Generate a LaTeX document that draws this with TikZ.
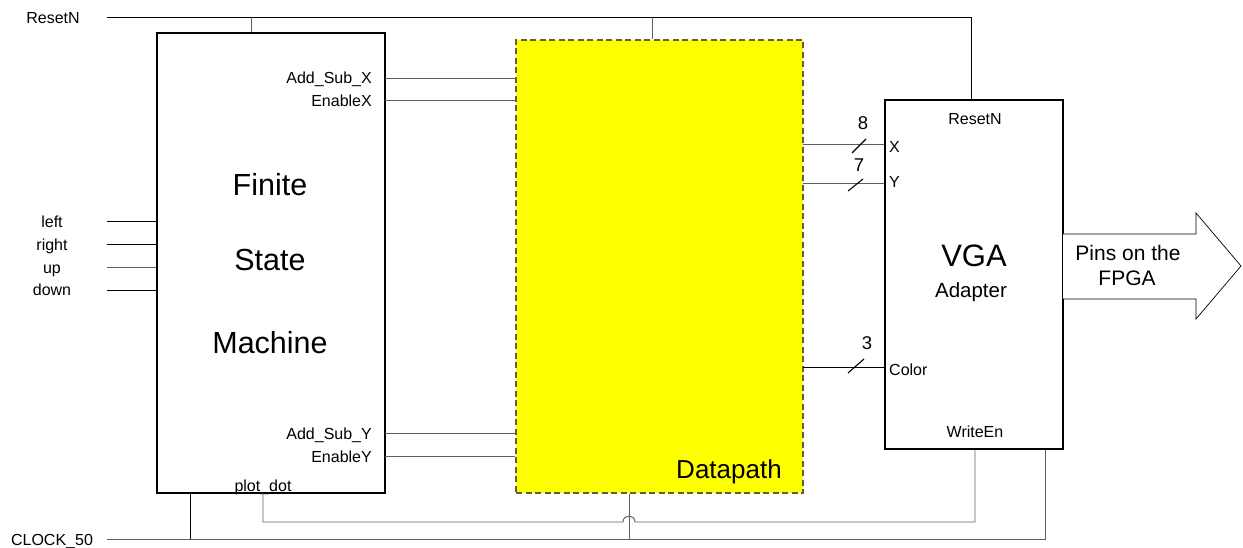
\documentclass[tikz,border=0pt]{standalone}
\usepackage{fontspec}
\setmainfont{Liberation Sans}
\definecolor{wiregray}{RGB}{95,95,95}
\definecolor{dpedge}{RGB}{95,95,60}
\definecolor{dpfill}{RGB}{255,255,0}
\begin{document}
\begin{tikzpicture}[x=1pt,y=-1pt,
  blk/.style={draw=black,line width=1.5pt,inner sep=0pt,fill=white},
  dpbox/.style={draw=dpedge,line width=1.2pt,dash pattern=on 6pt off 3.5pt,fill=dpfill,inner sep=0pt},
  wire/.style={draw=wiregray,line width=0.95pt},
  wirek/.style={draw=black,line width=0.95pt},
  small/.style={inner sep=0pt,font=\fontsize{16}{19}\selectfont},
  big/.style={inner sep=0pt,font=\fontsize{30.5}{34}\selectfont},
  mid/.style={inner sep=0pt,font=\fontsize{21}{25}\selectfont},
  busnum/.style={inner sep=0pt,font=\fontsize{18.5}{21}\selectfont},
  slash/.style={draw=black,line width=1.1pt}]
\useasboundingbox (0,0) rectangle (1243,548);

% blocks
\node[blk, minimum width=228pt, minimum height=460pt] (fsm) at (271,263) {};
\node[dpbox, minimum width=287pt, minimum height=453pt] (dp) at (659.5,266.5) {};
\node[blk, minimum width=178pt, minimum height=349pt] (vga) at (974,274.5) {};

% output arrow
\draw[black,line width=0.7pt,fill=white] (1063,234) -- (1196,234) -- (1196,213) -- (1241,266) -- (1196,319) -- (1196,299) -- (1063,299);
\node[mid,anchor=base] (pins1) at (1128,261) {Pins on the};
\node[mid,anchor=base] (pins2) at (1127,286) {FPGA};

% block titles
\node[big,anchor=base] (t1) at (270,196) {Finite};
\node[big,anchor=base] (t2) at (270,271) {State};
\node[big,anchor=base] (t3) at (270,353) {Machine};
\node[inner sep=0pt,font=\fontsize{31}{35}\selectfont,anchor=base] (t4) at (974,267) {VGA};
\node[inner sep=0pt,font=\fontsize{20.5}{24}\selectfont,anchor=base] (t5) at (971,298) {Adapter};
\node[inner sep=0pt,font=\fontsize{26}{30}\selectfont,anchor=base] (t6) at (729,478) {Datapath};

% reset
\coordinate (rstin) at (107,17);
\coordinate (rstA) at (251,17);
\coordinate (rstB) at (652,17);
\node[small,anchor=base] (lrst) at (53,24) {ResetN};
\draw[wirek] (rstin) -| ([xshift=-3pt]vga.north);
\draw[wire] (rstA) -- (rstA |- fsm.north);
\draw[wire] (rstB) -- (rstB |- dp.north);

% FSM outputs
\coordinate (ax) at (385,78);
\coordinate (ex) at (385,100);
\coordinate (ay) at (385,433);
\coordinate (ey) at (385,456);
\draw[wire] (ax) -- (ax -| dp.west);
\draw[wire] (ex) -- (ex -| dp.west);
\draw[wire] (ay) -- (ay -| dp.west);
\draw[wire] (ey) -- (ey -| dp.west);
\node[small,anchor=base east] (lax) at (372,84) {Add\_Sub\_X};
\node[small,anchor=base east] (lex) at (372,107) {EnableX};
\node[small,anchor=base east] (lay) at (372,439) {Add\_Sub\_Y};
\node[small,anchor=base east] (ley) at (372,462) {EnableY};
\node[small,anchor=base] (lpd) at (263,491) {plot\_dot};

% inputs
\coordinate (inL) at (107,221);
\coordinate (inR) at (107,244);
\coordinate (inU) at (107,267);
\coordinate (inD) at (107,290);
\draw[wirek] (inL) -- (inL -| fsm.west);
\draw[wirek] (inR) -- (inR -| fsm.west);
\draw[wire] (inU) -- (inU -| fsm.west);
\draw[wirek] (inD) -- (inD -| fsm.west);
\node[small,anchor=base] (ll) at (52,228) {left};
\node[small,anchor=base] (lr) at (52,251) {right};
\node[small,anchor=base] (lu) at (52,273) {up};
\node[small,anchor=base] (ld) at (52,296) {down};

% clock
\coordinate (clk) at (107,539);
\coordinate (cA) at (190,539);
\coordinate (cB) at (629,539);
\node[small,anchor=base] (lclk) at (52,545) {CLOCK\_50};
\draw[wire] (clk) -| ([xshift=71pt]vga.south);
\draw[wirek] (cA) -- (cA |- fsm.south);
\draw[wire] (cB) -- (cB |- dp.south);

% plot_dot to WriteEn with hop
\coordinate (pd) at (263,493);
\draw[wire] (pd) -- (263,522) -- (623,522) .. controls (623,514) and (635,514) .. (635,522) -| ([xshift=1pt]vga.south);

% datapath to VGA buses
\coordinate (xo) at (803,144);
\coordinate (yo) at (803,183);
\coordinate (co) at (803,367);
\draw[wire] (xo) -- (xo -| vga.west);
\draw[wire] (yo) -- (yo -| vga.west);
\draw[wirek] (co) -- (co -| vga.west);
\draw[slash] (852,153) -- (866,139);
\draw[slash] (848,191) -- (863,179);
\draw[slash] (848,373) -- (864,359);
\node[busnum,anchor=base] (n8) at (863,130) {8};
\node[busnum,anchor=base] (n7) at (859,172) {7};
\node[busnum,anchor=base] (n3) at (867,349) {3};

% VGA port labels
\node[small,anchor=base west] (lx) at (889,153) {X};
\node[small,anchor=base west] (ly) at (889,188) {Y};
\node[small,anchor=base west] (lc) at (889,375) {Color};
\node[small,anchor=base] (lvr) at (975,125) {ResetN};
\node[small,anchor=base] (lwe) at (975,437) {WriteEn};
\end{tikzpicture}
\end{document}
